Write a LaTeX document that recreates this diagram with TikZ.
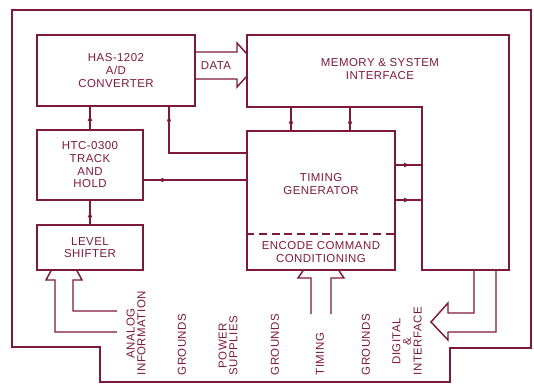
\documentclass[tikz,border=0pt]{standalone}
\usepackage{fontspec}
\setmainfont{Liberation Sans}[LetterSpace=4]
\usetikzlibrary{arrows.meta,decorations.markings}
\definecolor{ink}{RGB}{125,25,60}

\begin{document}
\begin{tikzpicture}[x=0.75pt, y=-0.75pt, line width=1.1pt, color=ink,
    font=\fontsize{8.6}{9.5}\selectfont,
    box/.style={draw, align=center, inner sep=0pt},
    arr/.style={postaction={decorate}, decoration={markings,
        mark=at position #1 with {\arrow{Latex[length=5.5pt,width=3.5pt]}}}},
    pin/.style={rotate=90, anchor=west, align=center, inner sep=0pt,
        font=\fontsize{8.6}{8}\selectfont}]
    \useasboundingbox (0,0) rectangle (534,384);
    \draw[line width=1.8pt] (12,10) -- (531,10) -- (531,348) -- (450,348)
        -- (450,382) -- (100,382) -- (100,347) -- (12,347) -- cycle;

    \node[box, minimum width=118.5pt, minimum height=53.25pt]
        (adc) at (116,70.5) {HAS-1202\\A/D\\CONVERTER};
    \node[box, minimum width=79.5pt, minimum height=52.5pt]
        (th) at (90,165) {HTC-0300\\TRACK\\AND\\HOLD};
    \node[box, minimum width=79.5pt, minimum height=33.75pt]
        (ls) at (90,247.5) {LEVEL\\SHIFTER};
    \node[box, minimum width=111pt, minimum height=104.25pt]
        (tg) at (321,200.5) {};
    \node[align=center] (tgtxt) at (321,184) {TIMING\\GENERATOR};
    \node[align=center] (enc) at (321,252) {ENCODE COMMAND\\CONDITIONING};
    \draw[dash pattern=on 6pt off 3.5pt] (tg.west |- 0,234) -- (tg.east |- 0,234);

    \draw (247,35) -- (509,35) -- (509,270) coordinate (memSE)
        -- (422,270) coordinate (memSW) -- (422,107) coordinate (memIn)
        -- (247,107) coordinate (memW) -- cycle;
    \node[align=center] (mem) at (380,69) {MEMORY \& SYSTEM\\INTERFACE};

    \draw[arr=0.7] (th.north) -- (adc.south -| th.north);
    \draw[arr=0.6] (ls.north) -- (th.south);
    \draw[arr=0.94] (tg.west |- 0,153) -| (169,0 |- adc.south);
    \draw[arr=0.88] (tg.west |- 0,180) -- (th.east |- 0,180);
    \draw[arr=0.6] (tg.north -| 291,0) -- (291,0 |- memW);
    \draw[arr=0.6] (tg.north -| 350,0) -- (350,0 |- memW);
    \draw[arr=0.6] (tg.east |- 0,165) -- (memSW |- 0,165);
    \draw[arr=0.6] (tg.east |- 0,200) -- (memSW |- 0,200);

    \draw (adc.east |- 0,52) -- (237,52) -- (237,43) -- (memW |- 0,54);
    \draw (adc.east |- 0,79) -- (237,79) -- (237,87) -- (memW |- 0,76);
    \node (data) at (216,65.5) {DATA};

    \coordinate (ain1) at (117,311);
    \coordinate (ain2) at (117,332);
    \draw (ain1) -- (73,311) -- (73,280) -- (82,280) -- (77,0 |- ls.south);
    \draw (ain2) -- (55,332) -- (55,280) -- (46,280) -- (51,0 |- ls.south);
    \coordinate (tin1) at (311,314);
    \coordinate (tin2) at (331,314);
    \draw (tin1) -- (311,278) -- (298,278) -- (303,0 |- tg.south);
    \draw (tin2) -- (331,278) -- (344,278) -- (339,0 |- tg.south);
    \draw (474,0 |- memSE) -- (474,313) -- (448,313) -- (448,303) -- (431,322)
        -- (448,340) -- (448,332) -- (496,332) -- (496,0 |- memSE);

    \node[pin] (analog) at (136,376) {ANALOG\\INFORMATION};
    \node[pin] (gnd1) at (182,376) {GROUNDS};
    \node[pin] (power) at (228,376) {POWER\\SUPPLIES};
    \node[pin] (gnd2) at (275,376) {GROUNDS};
    \node[pin] (timing) at (320,376) {TIMING};
    \node[pin] (gnd3) at (366,376) {GROUNDS};
    \node[pin] (digital) at (407,376) {DIGITAL\\\&\\INTERFACE};
\end{tikzpicture}
\end{document}
